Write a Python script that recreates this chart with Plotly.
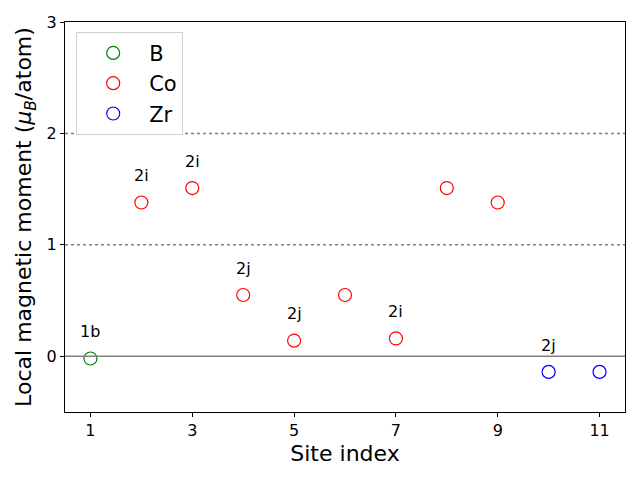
import plotly.graph_objects as go

b_sites = [1]
b_moments = [-0.02]
co_sites = [2, 3, 4, 5, 6, 7, 8, 9]
co_moments = [1.38, 1.51, 0.55, 0.14, 0.55, 0.16, 1.51, 1.38]
zr_sites = [10, 11]
zr_moments = [-0.14, -0.14]

label_sites = [1, 2, 3, 4, 5, 7, 10]
label_moments = [-0.02, 1.38, 1.51, 0.55, 0.14, 0.16, -0.14]
label_texts = ["1b", "2i", "2i", "2j", "2j", "2i", "2j"]

font = "DejaVu Sans"
fig = go.Figure()

for name, xs, ys, color in [
    ("B", b_sites, b_moments, "green"),
    ("Co", co_sites, co_moments, "red"),
    ("Zr", zr_sites, zr_moments, "blue"),
]:
    fig.add_trace(go.Scatter(
        x=xs, y=ys, mode="markers", name=name,
        marker=dict(symbol="circle-open", size=13, color=color, line=dict(width=1.2)),
    ))

fig.add_hline(y=0, line=dict(color="grey", width=1.5))
for yv in [1, 2]:
    fig.add_hline(y=yv, line=dict(color="grey", width=1.5, dash="dot"))

for xs, ys, t in zip(label_sites, label_moments, label_texts):
    fig.add_annotation(x=xs, y=ys + 0.24, text=t, showarrow=False,
                       font=dict(size=16, color="black", family=font))

fig.update_xaxes(
    range=[0.5, 11.5], tickvals=[1, 3, 5, 7, 9, 11],
    showgrid=False, zeroline=False, showline=True, linecolor="black", mirror=True,
    ticks="outside", ticklen=4, tickcolor="black",
    tickfont=dict(size=16, color="black"),
    title=dict(text="Site index", font=dict(size=22, color="black"), standoff=6),
    automargin=False,
)
fig.update_yaxes(
    range=[-0.5, 3], tickvals=[0, 1, 2, 3],
    showgrid=False, zeroline=False, showline=True, linecolor="black", mirror=True,
    ticks="outside", ticklen=4, tickcolor="black",
    tickfont=dict(size=16, color="black"),
    title=dict(text="Local magnetic moment (<i>μ<sub>B</sub></i>/atom)",
               font=dict(size=22, color="black"), standoff=8),
    automargin=False,
)

# page body has an 8px margin, so shrink the figure to keep the plot area in place
fig.update_layout(
    width=632, height=472,
    font=dict(family=font),
    plot_bgcolor="white", paper_bgcolor="white",
    margin=dict(l=57, r=15, t=14, b=68),
    legend=dict(x=0.02, y=0.975, xanchor="left", yanchor="top",
                font=dict(size=21, color="black"),
                bordercolor="#d0d0d0", borderwidth=1, bgcolor="white",
                itemwidth=62),
)

fig.write_html("out.html")
